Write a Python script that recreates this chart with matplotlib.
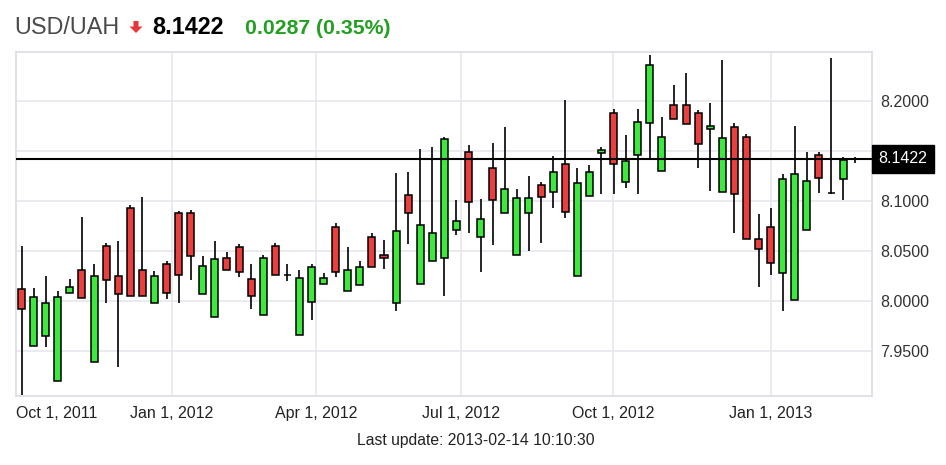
import matplotlib
matplotlib.use("Agg")
import matplotlib.pyplot as plt
from matplotlib.patches import Polygon
from matplotlib.transforms import blended_transform_factory
import numpy as np

# ---- data (weekly candles, USD/UAH) ----
opens = [8.0117, 7.955, 7.965, 7.920, 8.0083, 8.031, 7.9393, 8.055, 8.025, 8.0927,
         8.031, 7.9977, 8.037, 8.0877, 8.0883, 8.0067, 7.9843, 8.0427, 8.0537, 8.022,
         7.9857, 8.055, 8.026, 7.966, 7.999, 8.0173, 8.0743, 8.010, 8.0157, 8.0637,
         8.046, 7.9977, 8.106, 8.017, 8.040, 8.0427, 8.071, 8.1493, 8.0637, 8.1327,
         8.0877, 8.046, 8.0877, 8.116, 8.1087, 8.137, 8.025, 8.105, 8.1477, 8.1883,
         8.1193, 8.146, 8.1777, 8.130, 8.1957, 8.1957, 8.1883, 8.1717, 8.1087, 8.1743,
         8.1637, 8.062, 8.0737, 8.0277, 8.001, 8.071, 8.146, 8.1077, 8.1223, 8.1418]
highs = [8.0553, 8.0133, 8.0253, 8.0100, 8.0223, 8.0837, 8.037, 8.0583, 8.060, 8.096,
         8.1037, 8.030, 8.0403, 8.0903, 8.091, 8.045, 8.060, 8.0493, 8.057, 8.037,
         8.046, 8.0583, 8.037, 8.031, 8.037, 8.0277, 8.0777, 8.0537, 8.0403, 8.0677,
         8.061, 8.1277, 8.1287, 8.1517, 8.1543, 8.1643, 8.101, 8.1557, 8.1017, 8.1583,
         8.1737, 8.112, 8.1253, 8.1193, 8.145, 8.201, 8.1333, 8.136, 8.1543, 8.1917,
         8.166, 8.1917, 8.246, 8.1843, 8.216, 8.2277, 8.191, 8.1983, 8.241, 8.1777,
         8.1667, 8.087, 8.0927, 8.127, 8.175, 8.1493, 8.1493, 8.2427, 8.1443, 8.1443]
lows = [7.906, 7.955, 7.9543, 7.920, 8.0083, 8.0027, 7.9393, 7.9977, 7.9343, 8.005,
        8.005, 7.9977, 8.0017, 7.9977, 8.021, 8.0067, 7.9843, 8.031, 8.0243, 7.9917,
        7.9857, 8.026, 8.020, 7.966, 7.981, 8.0173, 8.0243, 8.010, 8.0157, 8.0337,
        8.0317, 7.990, 8.057, 8.017, 8.040, 8.005, 8.066, 8.0683, 8.0287, 8.056,
        8.0877, 8.046, 8.050, 8.0577, 8.0933, 8.0827, 8.025, 8.105, 8.107, 8.107,
        8.1127, 8.107, 8.1427, 8.130, 8.1823, 8.1767, 8.1327, 8.1103, 8.1087, 8.0677,
        8.062, 8.0137, 8.026, 7.9903, 8.001, 8.071, 8.1083, 8.107, 8.101, 8.1383]
closes = [7.9917, 8.0037, 7.9977, 8.0037, 8.0143, 8.0027, 8.025, 8.021, 8.0067, 8.005,
          8.005, 8.025, 8.0083, 8.026, 8.0453, 8.0353, 8.0417, 8.031, 8.0293, 8.005,
          8.0427, 8.026, 8.026, 8.0233, 8.0337, 8.0233, 8.0293, 8.031, 8.0337, 8.0337,
          8.0427, 8.070, 8.0877, 8.076, 8.0683, 8.1617, 8.0803, 8.0993, 8.0817, 8.101,
          8.1117, 8.1027, 8.1027, 8.1043, 8.1293, 8.0893, 8.1177, 8.1293, 8.151, 8.137,
          8.1403, 8.1793, 8.236, 8.1643, 8.1823, 8.1767, 8.157, 8.175, 8.1627, 8.107,
          8.062, 8.0517, 8.0383, 8.1217, 8.1267, 8.1203, 8.1227, 8.1077, 8.141, 8.1422]

last_price = 8.1422
change_text = "0.0287 (0.35%)"
symbol = "USD/UAH"
update_text = "Last update: 2013-02-14 10:10:30"

x_tick_labels = ["Jan 1, 2012", "Apr 1, 2012", "Jul 1, 2012", "Oct 1, 2012", "Jan 1, 2013"]
x_tick_pos = [12.42, 24.37, 36.37, 48.98, 62.03]
first_label = "Oct 1, 2011"
first_label_pos = 2.92
y_ticks = [7.95, 8.00, 8.05, 8.10, 8.15, 8.20]

# ---- figure ----
W, H = 946, 465
fig = plt.figure(figsize=(W / 100, H / 100), dpi=100)
fig.patch.set_facecolor("white")

L, R, T, B = 15.5, 871.5, 52, 396
ax = fig.add_axes([L / W, 1 - B / H, (R - L) / W, (B - T) / H])

x = np.arange(len(opens))
o = np.array(opens); c = np.array(closes); hi = np.array(highs); lo = np.array(lows)
up = c >= o
colors = np.where(up, "#3ee83e", "#e8403f")

grid_c = "#e6e7ee"
for yv in y_ticks:
    ax.axhline(yv, color=grid_c, lw=1.2, zorder=0)
for xv in x_tick_pos:
    ax.axvline(xv, color=grid_c, lw=1.2, zorder=0)

ax.vlines(x, lo, hi, color="black", lw=1.2, zorder=2)
ax.bar(x, c - o, bottom=o, width=0.58, color=colors, edgecolor="black",
       linewidth=1.1, zorder=3)

ax.axhline(last_price, color="black", lw=1.5, zorder=4)

ax.set_xlim(-0.5, 70.35)
ax.set_ylim(7.905, 8.249)

for s in ax.spines.values():
    s.set_color("#dcdde3")
    s.set_linewidth(1.2)

ax.set_xticks(x_tick_pos)
ax.set_xticklabels(x_tick_labels)
ax.tick_params(axis="x", length=0, pad=7, labelsize=11.5, labelcolor="#222222")
for t in ax.get_xticklabels():
    t.set_fontfamily("Liberation Sans")
ax.annotate(first_label, xy=(first_label_pos, 0),
            xycoords=blended_transform_factory(ax.transData, ax.transAxes),
            xytext=(0, -7), textcoords="offset points",
            ha="center", va="top", fontsize=11.5, color="#222222",
            family="Liberation Sans", annotation_clip=False)

ax.yaxis.tick_right()
ax.set_yticks(y_ticks)
ax.set_yticklabels([f"{v:.4f}" for v in y_ticks])
ax.tick_params(axis="y", length=0, pad=6, labelsize=11.5, labelcolor="#333333")
for t in ax.get_yticklabels():
    t.set_fontfamily("Liberation Sans")

# current price box
ax.annotate(f"{last_price:.4f}", xy=(1.0, last_price),
            xycoords=blended_transform_factory(ax.transAxes, ax.transData),
            xytext=(5, 0), textcoords="offset points", ha="left", va="center",
            fontsize=11.5, color="white", family="Liberation Sans", zorder=10,
            annotation_clip=False,
            bbox=dict(boxstyle="square,pad=0.4", fc="black", ec="black"))

# header
fig.text(14 / W, 1 - 34.5 / H, symbol, ha="left", va="baseline",
         fontsize=16.8, color="#4a4a4a", family="Liberation Sans")
arrow_px = [(133.5, 21), (138.5, 21), (138.5, 26.5), (142.5, 26.5),
            (136, 33), (129.5, 26.5), (133.5, 26.5)]
arrow = Polygon([(px, H - py) for px, py in arrow_px], closed=True,
                transform=None, facecolor="#e8353a", edgecolor="none")
fig.patches.append(arrow)
fig.text(152 / W, 1 - 34.5 / H, f"{last_price:.4f}", ha="left", va="baseline",
         fontsize=16.8, color="black", weight="bold", family="Liberation Sans")
fig.text(245 / W, 1 - 34.5 / H, change_text, ha="left", va="baseline",
         fontsize=15.3, color="#22a022", weight="bold", family="Liberation Sans")

fig.text(476 / W, 1 - 440 / H, update_text, ha="center", va="center",
         fontsize=11.3, color="#222222", family="Liberation Sans")

fig.savefig("out.png", dpi=100)
